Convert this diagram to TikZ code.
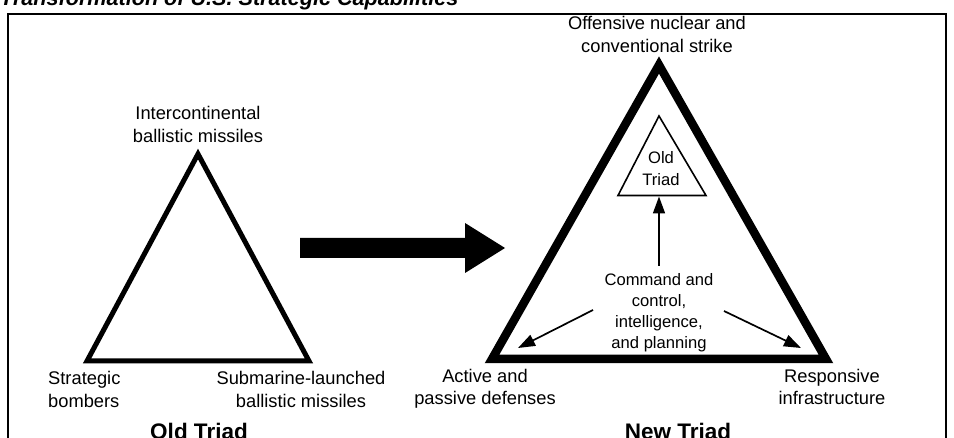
\documentclass[tikz,border=0pt]{standalone}
\usepackage{fontspec}
\setmainfont{Liberation Sans}
\usetikzlibrary{arrows.meta}
\begin{document}
\begin{tikzpicture}[x=1pt,y=-1pt,
  lbl/.style={align=center,inner sep=0pt,anchor=base,font=\fontsize{18.3}{22.5}\selectfont},
  sml/.style={align=center,inner sep=0pt,anchor=base,font=\fontsize{16.6}{21.3}\selectfont},
  ttl/.style={inner sep=0pt,anchor=base,font=\fontsize{22.5}{26}\selectfont\bfseries},
  thinarrow/.style={-{Triangle[length=17pt,width=12pt]},line width=1.7pt},
  oldtri/.style={line width=5pt,miter limit=20},
  newtri/.style={line width=8.5pt,miter limit=20},
  innertri/.style={line width=1.6pt}]
\useasboundingbox (0,0) rectangle (954,438);
\begin{scope}
\clip (0,0) rectangle (954,438);
% title and frame
\node[anchor=base west,inner sep=0pt,font=\fontsize{21.6}{25}\selectfont\bfseries\itshape] (title) at (0,6) {Transformation of U.S. Strategic Capabilities};
\draw[line width=1.5pt] (8,14) rectangle (946,470);
% old triad (multi-line nodes: base = last line baseline)
\coordinate (oA) at (198,154);
\coordinate (oR) at (309,361);
\coordinate (oL) at (87,361);
\draw[oldtri] (oA) -- (oR) -- (oL) -- cycle;
\node[lbl] (icbm) at (198,142.5) {Intercontinental\\ballistic missiles};
\node[lbl,align=left,anchor=base west] (bomb) at (48,407.5) {Strategic\\bombers};
\node[lbl] (slbm) at (301,407.5) {Submarine-launched\\ballistic missiles};
\node[ttl] (oldlbl) at (199,439) {Old Triad};
% big arrow
\fill (300,238) -- (465,238) -- (465,223) -- (505,248) -- (465,273) -- (465,258) -- (300,258) -- cycle;
% new triad
\coordinate (nA) at (659,65);
\coordinate (nR) at (826,359);
\coordinate (nL) at (492,359);
\draw[newtri] (nA) -- (nR) -- (nL) -- cycle;
\coordinate (iA) at (659,116);
\coordinate (iR) at (706,195.5);
\coordinate (iL) at (618,195.5);
\draw[innertri] (iA) -- (iR) -- (iL) -- cycle;
\coordinate (iB) at (659,196.5);
\node[sml] (inner) at (661,185.3) {Old\\Triad};
\node[lbl] (off) at (657,52.5) {Offensive nuclear and\\conventional strike};
\node[lbl] (act) at (485,405) {Active and\\passive defenses};
\node[lbl] (resp) at (832,405) {Responsive\\infrastructure};
\node[sml] (cmd) at (659,349) {Command and\\control,\\intelligence,\\and planning};
\node[ttl] (newlbl) at (678,439) {New Triad};
\coordinate (cU) at (659,266);
\coordinate (cL) at (593,310);
\coordinate (cR) at (724,311);
\coordinate (tL) at (518,348);
\coordinate (tR) at (801,348);
\draw[thinarrow] (cU) -- (iB);
\draw[thinarrow] (cL) -- (tL);
\draw[thinarrow] (cR) -- (tR);
\end{scope}
\end{tikzpicture}
\end{document}
